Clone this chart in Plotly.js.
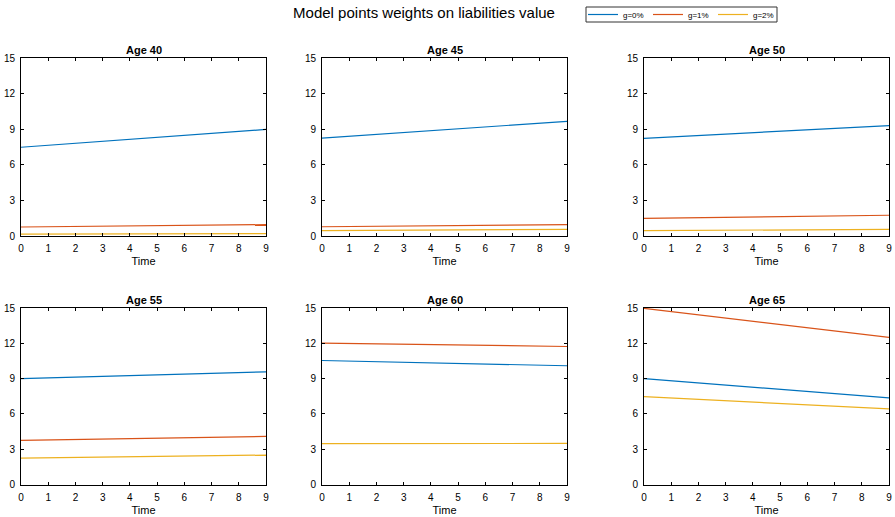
<!DOCTYPE html>
<html>
<head>
<meta charset="utf-8">
<script src="https://cdn.plot.ly/plotly-3.0.1.min.js"></script>
<style>html,body{margin:0;padding:0;background:#fff;}#chart{width:895px;height:517px;}</style>
</head>
<body>
<div id="chart"></div>
<script>
// ---- data ----
const time = [0, 1, 2, 3, 4, 5, 6, 7, 8, 9];
const seriesNames = ["g=0%", "g=1%", "g=2%"];
const panelTitles = ["Age 40", "Age 45", "Age 50", "Age 55", "Age 60", "Age 65"];

const age40_g0 = [7.48, 7.65, 7.81, 7.98, 8.15, 8.31, 8.48, 8.65, 8.82, 8.98];
const age40_g1 = [0.76, 0.78, 0.80, 0.82, 0.85, 0.87, 0.89, 0.91, 0.94, 0.96];
const age40_g2 = [0.15, 0.16, 0.16, 0.17, 0.17, 0.18, 0.18, 0.19, 0.19, 0.20];

const age45_g0 = [8.25, 8.41, 8.56, 8.72, 8.88, 9.03, 9.19, 9.35, 9.50, 9.66];
const age45_g1 = [0.78, 0.80, 0.82, 0.84, 0.86, 0.88, 0.90, 0.92, 0.94, 0.96];
const age45_g2 = [0.45, 0.46, 0.47, 0.49, 0.50, 0.51, 0.52, 0.53, 0.55, 0.56];

const age50_g0 = [8.23, 8.35, 8.47, 8.59, 8.71, 8.82, 8.94, 9.06, 9.18, 9.30];
const age50_g1 = [1.49, 1.52, 1.55, 1.58, 1.61, 1.63, 1.66, 1.69, 1.72, 1.75];
const age50_g2 = [0.45, 0.46, 0.47, 0.49, 0.50, 0.51, 0.52, 0.53, 0.55, 0.56];

const age55_g0 = [9.00, 9.06, 9.13, 9.19, 9.25, 9.32, 9.38, 9.44, 9.51, 9.57];
const age55_g1 = [3.75, 3.79, 3.83, 3.86, 3.90, 3.94, 3.98, 4.01, 4.05, 4.09];
const age55_g2 = [2.24, 2.27, 2.30, 2.33, 2.36, 2.38, 2.41, 2.44, 2.47, 2.50];

const age60_g0 = [10.54, 10.49, 10.44, 10.39, 10.34, 10.29, 10.24, 10.19, 10.14, 10.09];
const age60_g1 = [12.02, 11.99, 11.96, 11.92, 11.89, 11.86, 11.83, 11.80, 11.76, 11.73];
const age60_g2 = [3.47, 3.47, 3.47, 3.48, 3.48, 3.48, 3.48, 3.49, 3.49, 3.49];

const age65_g0 = [9.00, 8.82, 8.64, 8.45, 8.27, 8.09, 7.91, 7.72, 7.54, 7.36];
const age65_g1 = [14.97, 14.70, 14.42, 14.15, 13.88, 13.60, 13.33, 13.05, 12.78, 12.50];
const age65_g2 = [7.47, 7.35, 7.24, 7.12, 7.00, 6.89, 6.77, 6.65, 6.54, 6.42];

const panels = [
  [age40_g0, age40_g1, age40_g2],
  [age45_g0, age45_g1, age45_g2],
  [age50_g0, age50_g1, age50_g2],
  [age55_g0, age55_g1, age55_g2],
  [age60_g0, age60_g1, age60_g2],
  [age65_g0, age65_g1, age65_g2]
];

const xTicks = [0, 1, 2, 3, 4, 5, 6, 7, 8, 9];
const yTicks = [0, 3, 6, 9, 12, 15];

// ---- styling ----
const colors = ["#0072BD", "#D95319", "#EDB120"];
const W = 895, H = 517;
const xDomPx = [[21, 266], [322, 567], [644, 889]];
const yDomPx = [[58, 236], [308, 484.5]];
const FONT = "Liberation Sans, Arial, sans-serif";
const legendBox = [586, 7, 777, 22];

const traces = [];
const layout = {
  width: W, height: H,
  margin: {l: 0, r: 0, t: 0, b: 0, autoexpand: false},
  paper_bgcolor: "#fff", plot_bgcolor: "#fff",
  font: {family: FONT, size: 10, color: "#000"},
  showlegend: true,
  legend: {
    orientation: "h", x: (legendBox[0] - 3) / W, y: 1 - (legendBox[1] + legendBox[3]) / 2 / H,
    xanchor: "left", yanchor: "middle",
    bgcolor: "rgba(0,0,0,0)", borderwidth: 0, font: {size: 8, family: FONT},
    entrywidth: 20, entrywidthmode: "pixels", tracegroupgap: 0
  },
  title: {text: "Model points weights on liabilities value", x: 424 / W, xanchor: "center",
          y: 1 - 13 / H, yanchor: "middle", font: {size: 15, family: FONT, color: "#000"}},
  annotations: [],
  shapes: [{
    type: "rect", xref: "paper", yref: "paper",
    x0: legendBox[0] / W, x1: legendBox[2] / W, y0: 1 - legendBox[1] / H, y1: 1 - legendBox[3] / H,
    line: {color: "#333", width: 1}, fillcolor: "rgba(0,0,0,0)", layer: "above"
  }]
};

panels.forEach((p, i) => {
  const row = Math.floor(i / 3), col = i % 3;
  const n = i + 1;
  const xa = "x" + (n === 1 ? "" : n), ya = "y" + (n === 1 ? "" : n);
  p.forEach((vals, s) => {
    traces.push({
      x: time, y: vals, type: "scatter", mode: "lines",
      name: seriesNames[s], line: {color: colors[s], width: 1.2},
      xaxis: xa, yaxis: ya, showlegend: i === 0, legendgroup: seriesNames[s]
    });
  });
  const axBase = {
    showline: true, linecolor: "#000", linewidth: 1, mirror: "ticks",
    ticks: "inside", ticklen: 3, tickcolor: "#000", showgrid: false, zeroline: false,
    tickfont: {size: 10, family: FONT, color: "#000"}, fixedrange: true, automargin: false
  };
  layout["xaxis" + (n === 1 ? "" : n)] = Object.assign({}, axBase, {
    domain: [xDomPx[col][0] / W, xDomPx[col][1] / W],
    anchor: ya, range: [0, 9], tickvals: xTicks, ticklabelstandoff: 3,
    title: {text: "Time", font: {size: 11, family: FONT, color: "#000"}, standoff: 4}
  });
  layout["yaxis" + (n === 1 ? "" : n)] = Object.assign({}, axBase, {
    domain: [1 - yDomPx[row][1] / H, 1 - yDomPx[row][0] / H],
    anchor: xa, range: [0, 15], tickvals: yTicks, ticklabelstandoff: 3
  });
  layout.annotations.push({
    text: "<b>" + panelTitles[i] + "</b>", xref: "paper", yref: "paper",
    x: (xDomPx[col][0] + xDomPx[col][1]) / 2 / W, y: 1 - yDomPx[row][0] / H,
    xanchor: "center", yanchor: "bottom", yshift: 0, showarrow: false,
    font: {size: 11, family: FONT, color: "#000"}
  });
});

Plotly.newPlot("chart", traces, layout, {staticPlot: true, displayModeBar: false});
</script>
</body>
</html>
